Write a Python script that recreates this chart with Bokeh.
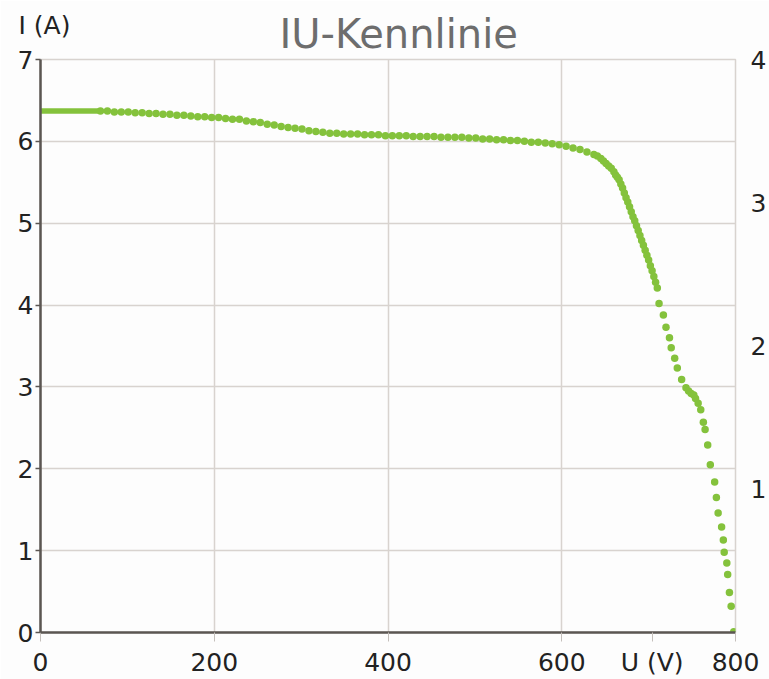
from bokeh.plotting import figure
from bokeh.models import Range1d, LinearAxis, FixedTicker, Title
from bokeh.embed import file_html
from bokeh.resources import INLINE

# ---- data ----
u_line = [0, 69]
i_line = [6.37, 6.37]

u_points = [69, 77, 85, 93, 101, 109, 117, 125, 133, 141, 149, 157, 165, 173, 181, 189, 197, 205,
            213, 221, 229, 237, 245, 253, 261, 269, 277, 285, 293, 301, 309, 317, 325, 333, 341, 349,
            357, 365, 373, 381, 389, 397, 405, 413, 421, 429, 437, 445, 453, 461, 469, 477, 485, 493,
            501, 509, 517, 525, 533, 541, 549, 557, 565, 573, 581, 589, 597, 605, 613, 621, 629, 637,
            641, 645, 648, 651, 654, 657, 660, 662, 664, 666, 668, 670, 672, 674, 676, 678, 680, 682,
            684, 686, 688, 690, 692, 694, 696, 698, 700, 702, 704, 706, 708, 710,
            712, 717, 720, 724, 726, 730, 733, 738, 743, 746, 749, 752, 754, 757, 760, 763, 765, 768,
            771, 776, 778, 780, 784, 786, 787, 790, 791, 793, 795, 798]
i_points = [6.37, 6.37, 6.36, 6.36, 6.36, 6.35, 6.35, 6.34, 6.34, 6.33, 6.33, 6.32, 6.32, 6.31, 6.30, 6.30, 6.29, 6.29,
            6.28, 6.27, 6.27, 6.25, 6.24, 6.23, 6.21, 6.20, 6.18, 6.17, 6.16, 6.15, 6.13, 6.12, 6.11, 6.10, 6.10, 6.09,
            6.09, 6.09, 6.08, 6.08, 6.08, 6.07, 6.07, 6.07, 6.07, 6.06, 6.06, 6.06, 6.06, 6.05, 6.05, 6.05, 6.05, 6.04,
            6.04, 6.03, 6.03, 6.02, 6.02, 6.01, 6.01, 6.00, 5.99, 5.99, 5.98, 5.97, 5.96, 5.94, 5.92, 5.90, 5.87, 5.84,
            5.82, 5.79, 5.76, 5.73, 5.70, 5.67, 5.63, 5.59, 5.56, 5.53, 5.48, 5.43, 5.37, 5.31, 5.26, 5.20, 5.14, 5.08,
            5.03, 4.97, 4.91, 4.85, 4.79, 4.73, 4.67, 4.61, 4.55, 4.48, 4.42, 4.35, 4.28, 4.21,
            4.02, 3.88, 3.73, 3.60, 3.48, 3.35, 3.23, 3.09, 2.99, 2.95, 2.92, 2.90, 2.86, 2.80, 2.72, 2.57, 2.48, 2.29,
            2.05, 1.84, 1.65, 1.46, 1.29, 1.13, 0.98, 0.85, 0.71, 0.49, 0.32, 0.01]

x_ticks = [0, 200, 400, 600, 704, 800]
x_tick_labels = {704: "U (V)"}
y_ticks = [0, 1, 2, 3, 4, 5, 6, 7]
right_ticks = [1, 2, 3, 4]

title_text = "IU-Kennlinie"
y_title = "I (A)"

FONT = "DejaVu Sans"
GREEN = "#84c23c"
GRID = "#d8d3cf"
AXIS = "#5b5652"
BG = "#fdfdfd"

p = figure(width=769, height=679, output_backend="svg", toolbar_location=None,
           title_location=None,
           x_range=Range1d(0, 800), y_range=Range1d(0, 7),
           min_border_left=40, min_border_right=0, min_border_top=59, min_border_bottom=47)
p.background_fill_color = BG
p.border_fill_color = BG
p.outline_line_color = GRID
p.outline_line_width = 1.5

# main title (nearest the frame)
t_main = Title(text=title_text, align="left", offset=239, standoff=6,
               text_font=FONT, text_font_size="40px", text_font_style="normal",
               text_color="#6d6d6d")
p.add_layout(t_main, "above")
# axis caption "I (A)" sharing the same band
t_ia = Title(text=y_title, align="left", offset=-22, standoff=-69,
             text_font=FONT, text_font_size="25px", text_font_style="normal",
             text_color="#222222")
p.add_layout(t_ia, "above")

p.xaxis.ticker = FixedTicker(ticks=x_ticks)
p.xaxis.major_label_overrides = x_tick_labels
p.yaxis.ticker = FixedTicker(ticks=y_ticks)
for ax in (p.xaxis, p.yaxis):
    ax.axis_line_color = AXIS
    ax.axis_line_width = 2.5
    ax.minor_tick_line_color = None
    ax.major_label_text_font = FONT
    ax.major_label_text_font_size = "25px"
    ax.major_label_text_color = "#222222"
p.xaxis.major_tick_in = 0
p.xaxis.major_tick_out = 9
p.xaxis.major_tick_line_color = "#c4bfbb"
p.xaxis.major_label_standoff = 6
p.yaxis.major_tick_in = 0
p.yaxis.major_tick_out = 5
p.yaxis.major_tick_line_color = AXIS
p.yaxis.major_tick_line_width = 1.5
p.yaxis.major_label_standoff = 2

p.extra_y_ranges = {"p": Range1d(0, 4)}
ra = LinearAxis(y_range_name="p", ticker=FixedTicker(ticks=right_ticks))
ra.axis_line_color = None
ra.major_tick_line_color = None
ra.minor_tick_line_color = None
ra.major_tick_in = 0
ra.major_tick_out = 0
ra.major_label_standoff = 15
ra.major_label_text_font = FONT
ra.major_label_text_font_size = "25px"
ra.major_label_text_color = "#222222"
p.add_layout(ra, "right")

p.xgrid.grid_line_color = GRID
p.ygrid.grid_line_color = GRID
p.xgrid.grid_line_width = 1.5
p.ygrid.grid_line_width = 1.5
p.xgrid.ticker = FixedTicker(ticks=[t for t in x_ticks if t not in x_tick_labels])

p.line(u_line, i_line, line_color=GREEN, line_width=5.5)
p.scatter(u_points, i_points, size=7.5, fill_color=GREEN, line_color=None)

open("out.html", "w").write(file_html(p, INLINE))
